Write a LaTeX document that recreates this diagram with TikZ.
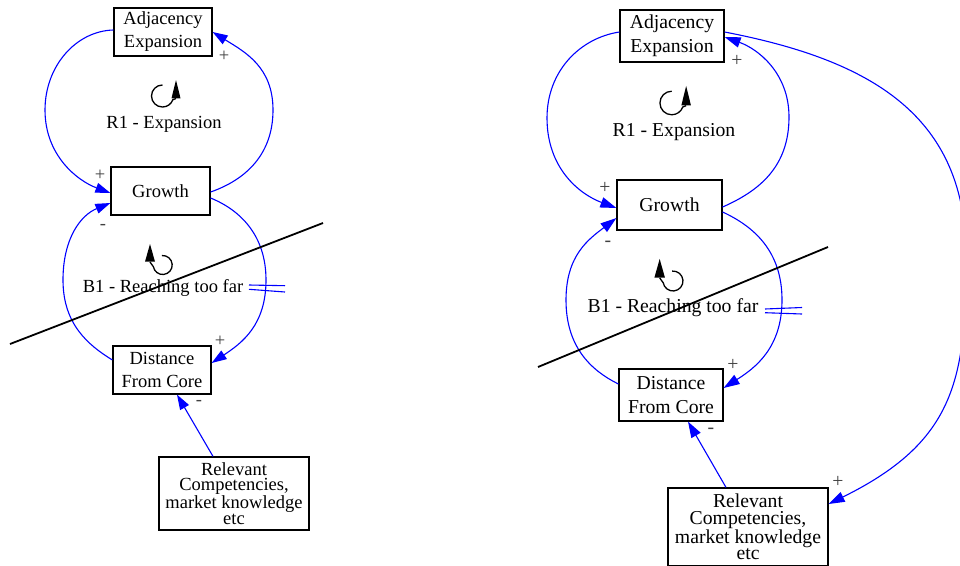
\documentclass[tikz,border=0pt]{standalone}
\usepackage{fontspec}
\setmainfont{Liberation Serif}
\usetikzlibrary{arrows.meta,calc}
\begin{document}
\begin{tikzpicture}[x=1pt,y=-1pt,
  box/.style={draw, line width=1.2pt, inner sep=0pt, align=center},
  lfont/.style={font=\fontsize{18.5}{23}\selectfont},
  rfont/.style={font=\fontsize{19.7}{23.5}\selectfont},
  link/.style={draw=blue, line width=1.1pt, -{Triangle[length=15pt,width=10pt]}},
  rlink/.style={draw=blue, line width=1.1pt, -{Triangle[length=16pt,width=10.5pt]}},
  pol/.style={text=black!75, inner sep=0pt},
  cut/.style={line width=1.8pt},
  delay/.style={draw=blue, line width=1.1pt},
  loopR/.pic={
    \draw[line width=1.3pt] (270:11) arc[start angle=270, end angle=20, radius=11] -- (13.5,2.5);
    \fill (9,2.3) -- (13.5,-16) -- (18,2.3) -- cycle;
  },
  loopB/.pic={
    \draw[line width=1.3pt] (-95:9.5) arc[start angle=-95, end angle=170, radius=9.5] -- (-12.7,-3);
    \fill (-17.7,-3.3) -- (-12.7,-21) -- (-7.7,-3.3) -- cycle;
  },
]
\useasboundingbox (0,0) rectangle (960,565);

% ---------------- left loop pair ----------------
\node[box,lfont,minimum width=98pt,minimum height=48pt] (adjL) at (163,32) {Adjacency\\Expansion};
\node[box,lfont,minimum width=99pt,minimum height=48pt] (grL) at (160.5,191) {Growth};
\node[box,lfont,minimum width=98pt,minimum height=48pt] (distL) at (162,370) {Distance\\From Core};
\node[box,font=\fontsize{18.5}{15.6}\selectfont,minimum width=150pt,minimum height=73pt] (relL) at (234,493.5) {Relevant\\Competencies,\\market knowledge\\etc};

\node[lfont,anchor=base] (r1L) at (164,128.3) {R1 - Expansion};
\node[lfont,anchor=base] (b1L) at (163,292.7) {B1 - Reaching too far};
\pic at (162.5,96) {loopR};
\pic at (162.7,265) {loopB};

% outer arcs of the reinforcing loop
\coordinate (wL1) at (45,110);
\coordinate (eL1) at (273,110);
\draw[link] ($(adjL.west)+(0,-2)$) .. controls (76,31) and (45,66) .. (wL1)
  .. controls (45,156) and (78,181) .. ($(grL.west)+(0,2)$);
\draw[link] ($(grL.east)+(0,1)$) .. controls (245,180) and (273,155) .. (eL1)
  .. controls (273,67) and (245,52) .. (adjL.east);
% arcs of the balancing loop
\coordinate (wL2) at (63,280);
\coordinate (eL2) at (266,280);
\draw[link] ($(distL.west)+(0,-10)$) .. controls (88,345) and (63,324) .. (wL2)
  .. controls (63,238) and (81,215) .. ($(grL.west)+(0,12)$);
\draw[link] ($(grL.east)+(0,7)$) .. controls (240,210) and (266,235) .. (eL2)
  .. controls (266,325) and (242,343) .. ($(distL.east)+(0,-7)$);
\draw[link] ($(relL.north)+(-21,0)$) -- ($(distL.south)+(15,0)$);

\node[pol,lfont] (pl1) at (224,56) {+};
\node[pol,lfont] (pl2) at (100,175) {+};
\node[pol,lfont] (pl3) at (103,227) {-};
\node[pol,lfont] (pl4) at (220,341) {+};
\node[pol,lfont] (pl5) at (199,403) {-};

\draw[delay] (249,285) -- (285,285.7);
\draw[delay] (249,289.3) -- (285,292);
\coordinate (cutL1) at (10,344);
\coordinate (cutL2) at (323,223);
\draw[cut] (cutL1) -- (cutL2);

% ---------------- right loop pair ----------------
\node[box,rfont,minimum width=104pt,minimum height=52pt] (adjR) at (672,36) {Adjacency\\Expansion};
\node[box,rfont,minimum width=105pt,minimum height=50pt] (grR) at (669.5,205) {Growth};
\node[box,rfont,minimum width=104pt,minimum height=52pt] (distR) at (671,395) {Distance\\From Core};
\node[box,font=\fontsize{19.7}{16.7}\selectfont,minimum width=160pt,minimum height=78pt] (relR) at (748,527) {Relevant\\Competencies,\\market knowledge\\etc};

\node[rfont,anchor=base] (r1R) at (674,136.7) {R1 - Expansion};
\node[rfont,anchor=base] (b1R) at (673,312.7) {B1 - Reaching too far};
\pic[scale=1.07] at (671.7,103) {loopR};
\pic[scale=1.05] at (673,281) {loopB};

\coordinate (wR1) at (547,118);
\coordinate (eR1) at (789,117);
\draw[rlink] ($(adjR.west)+(0,-4)$) .. controls (580,38) and (547,71) .. (wR1)
  .. controls (547,168) and (579,194) .. ($(grR.west)+(0,3)$);
\draw[rlink] ($(grR.east)+(0,2)$) .. controls (759,191) and (789,167) .. (eR1)
  .. controls (789,73) and (758,49) .. ($(adjR.east)+(0,1)$);
\coordinate (wR2) at (566,300);
\coordinate (eR2) at (782,300);
\draw[rlink] ($(distR.west)+(0,-11)$) .. controls (590,370) and (566,346) .. (wR2)
  .. controls (566,255) and (589,239) .. ($(grR.west)+(0,13)$);
\draw[rlink] ($(grR.east)+(0,7)$) .. controls (755,227) and (782,252) .. (eR2)
  .. controls (782,348) and (755,368) .. ($(distR.east)+(0,-7)$);
\draw[rlink] ($(relR.north)+(-22,0)$) -- ($(distR.south)+(17,0)$);
\coordinate (swing) at (966,260);
\draw[rlink] ($(adjR.east)+(0,-4)$) .. controls (870,60) and (968,115) .. (swing)
  .. controls (966,380) and (954.5,442) .. ($(relR.east)+(0,-23)$);

\node[pol,rfont] (pr1) at (737,61) {+};
\node[pol,rfont] (pr2) at (605,188) {+};
\node[pol,rfont] (pr3) at (608,244) {-};
\node[pol,rfont] (pr4) at (733,365) {+};
\node[pol,rfont] (pr5) at (711,431) {-};
\node[pol,rfont] (pr6) at (838,482) {+};

\draw[delay] (765,309) -- (802,307.5);
\draw[delay] (765,312.7) -- (802,314);
\coordinate (cutR1) at (538,367);
\coordinate (cutR2) at (828,247);
\draw[cut] (cutR1) -- (cutR2);
\end{tikzpicture}
\end{document}
